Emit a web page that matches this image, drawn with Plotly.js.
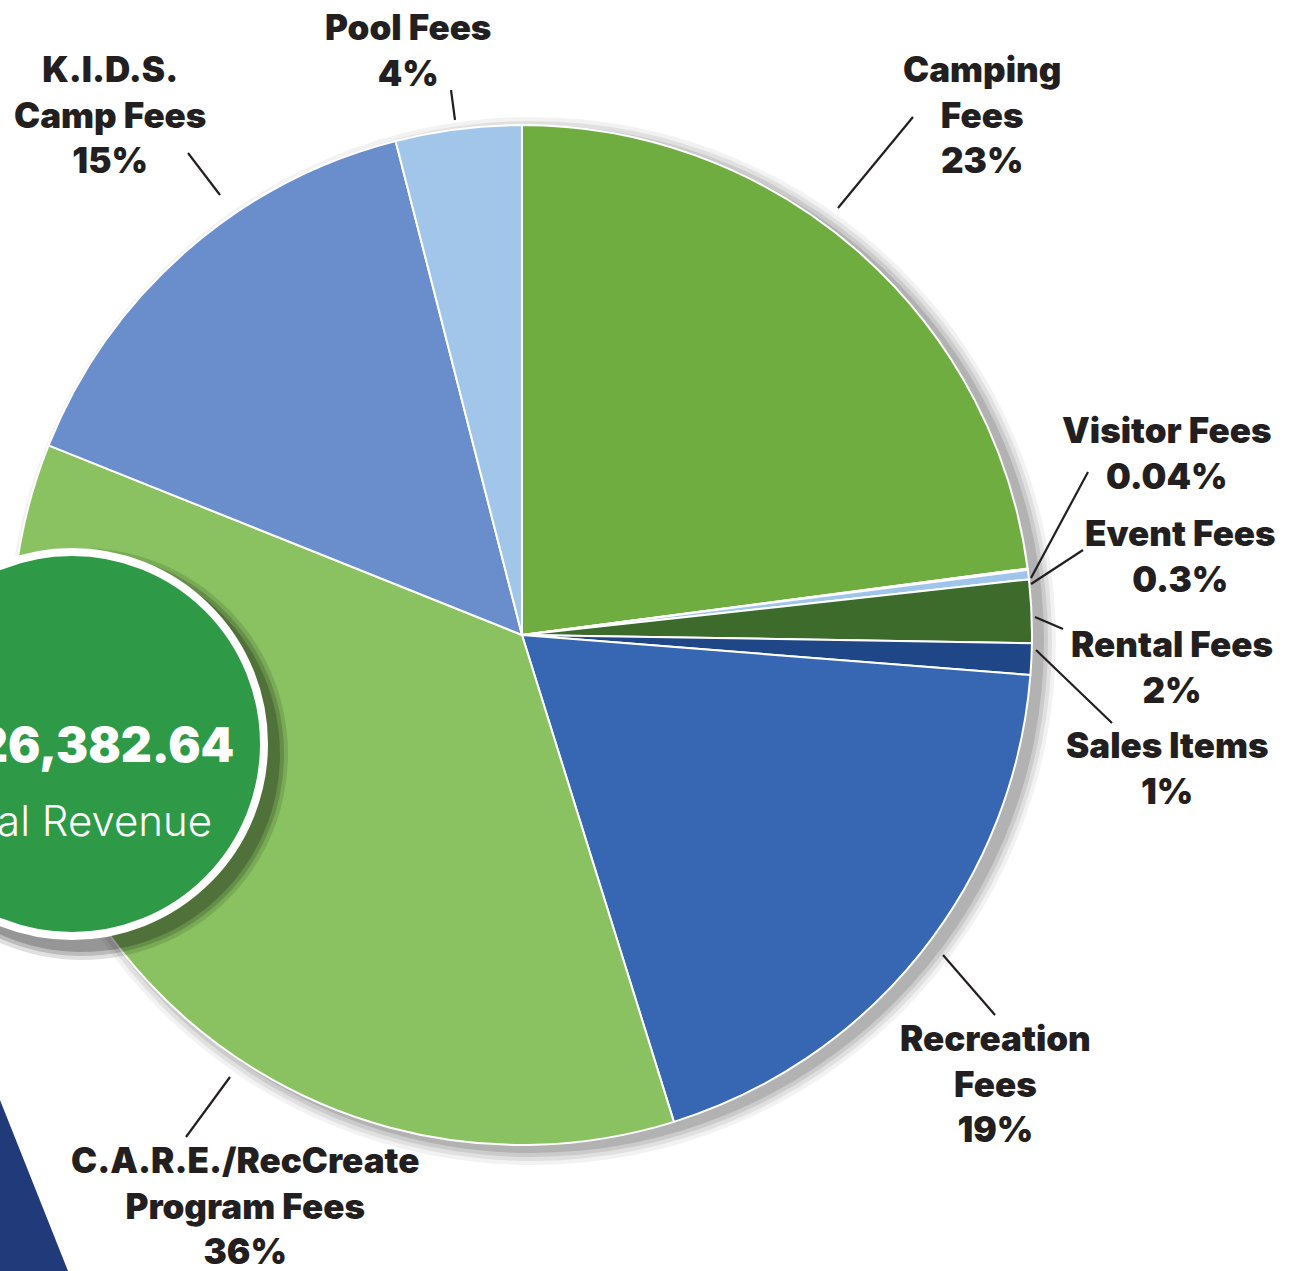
<!DOCTYPE html>
<html>
<head>
<meta charset="utf-8">
<script src="https://cdn.plot.ly/plotly-3.0.1.min.js"></script>
<style>html,body{margin:0;padding:0;background:#fff;overflow:hidden}#chart{width:1293px;height:1271px}</style>
</head>
<body>
<div id="chart"></div>
<script>
// ---- data ----
const categories = ["Camping Fees","Visitor Fees","Event Fees","Rental Fees","Sales Items","Recreation Fees","C.A.R.E./RecCreate Program Fees","K.I.D.S. Camp Fees","Pool Fees"];
const shares = [23, 0.04, 0.3, 2, 1, 19, 36, 15, 4];
const shareLabels = ["23%","0.04%","0.3%","2%","1%","19%","36%","15%","4%"];
const labelLines = [["Camping","Fees"],["Visitor Fees"],["Event Fees"],["Rental Fees"],["Sales Items"],["Recreation","Fees"],["C.A.R.E./RecCreate","Program Fees"],["K.I.D.S.","Camp Fees"],["Pool Fees"]];
const totalText = "26,382.64";
const totalLabel = "Total Revenue";

// ---- styling ----
const W = 1293, H = 1271;
const colors = ["#6fad41","#cfe2f3","#9fc6ea","#3d6b2c","#1f4787","#3767b3","#8ac262","#6a8ecb","#a2c6ea"];
const px = x => x / W;
const py = y => 1 - y / H;
const cx = 522, cy = 635, R = 510;

const labelPos = [[982,115],[1167,453],[1180,556],[1172,667],[1167,768],[995,1083],[245,1205],[110,115],[408,50]];
const leaders = [[913,117,838,208],[1088,472,1031,578],[1083,550,1031,584],[1063,629,1035,617],[1112,723,1036,650],[995,1015,943,955],[186,1137,230,1077],[188,153,220,195],[451,90,455,120]];

const trace = {
  type: 'pie',
  labels: categories,
  values: shares,
  sort: false,
  direction: 'clockwise',
  rotation: 0,
  textinfo: 'none',
  hoverinfo: 'label+percent',
  marker: {colors: colors, line: {color: '#ffffff', width: 2}},
  domain: {x: [px(cx - R), px(cx + R)], y: [py(cy + R), py(cy - R)]},
  showlegend: false
};

const shapes = [];
// soft pie shadow
[[14, 0.05],[10, 0.07],[6, 0.09],[2, 0.12]].forEach(([extra, op]) => {
  const ox = 10, oy = 6, r = R + extra;
  shapes.push({type:'circle', xref:'paper', yref:'paper', layer:'below',
    x0:px(cx+ox-r), x1:px(cx+ox+r), y0:py(cy+oy+r), y1:py(cy+oy-r),
    fillcolor:'rgba(0,0,0,'+op+')', line:{width:0}});
});
// total revenue badge shadow
const bx = 72, by = 744, br = 192;
[[14, 0.12],[10, 0.16],[6, 0.2]].forEach(([extra, op]) => {
  const r = br + extra;
  shapes.push({type:'circle', xref:'paper', yref:'paper', layer:'above',
    x0:px(bx+10-r), x1:px(bx+10+r), y0:py(by+10+r), y1:py(by+10-r),
    fillcolor:'rgba(0,0,0,'+op+')', line:{width:0}});
});
shapes.push({type:'circle', xref:'paper', yref:'paper', layer:'above',
  x0:px(bx-br), x1:px(bx+br), y0:py(by+br), y1:py(by-br),
  fillcolor:'#2e9a48', line:{color:'#ffffff', width:8}});
// navy corner triangle
shapes.push({type:'path', xref:'paper', yref:'paper', layer:'above',
  path:`M ${px(0)} ${py(1100)} L ${px(68)} ${py(1271)} L ${px(0)} ${py(1271)} Z`,
  fillcolor:'#213a7a', line:{width:0}});
// leader lines
leaders.forEach(([x0,y0,x1,y1]) => {
  shapes.push({type:'line', xref:'paper', yref:'paper', layer:'above',
    x0:px(x0), y0:py(y0), x1:px(x1), y1:py(y1), line:{color:'#231f20', width:2.2}});
});

const labelFont = {family:'Inter, Lato, sans-serif', size:35, color:'#231f20', weight:900};
const annotations = categories.map((c, i) => ({
  xref:'paper', yref:'paper', x:px(labelPos[i][0]), y:py(labelPos[i][1]),
  xanchor:'center', yanchor:'middle', showarrow:false, align:'center',
  text: labelLines[i].concat([shareLabels[i]]).join('<br>'),
  font: labelFont
}));
annotations.push({xref:'paper', yref:'paper', x:px(236), y:py(744), xanchor:'right', yanchor:'middle', showarrow:false,
  text: totalText, font:{family:'Inter, Lato, sans-serif', size:48, color:'#ffffff', weight:900}});
annotations.push({xref:'paper', yref:'paper', x:px(214), y:py(820), xanchor:'right', yanchor:'middle', showarrow:false,
  text: totalLabel, font:{family:'Inter, Lato, sans-serif', size:42, color:'#ffffff', weight:300}});

const layout = {
  width: W, height: H,
  margin: {l:0, r:0, t:0, b:0},
  paper_bgcolor: '#ffffff',
  showlegend: false,
  shapes: shapes,
  annotations: annotations
};

Plotly.newPlot('chart', [trace], layout, {displayModeBar:false, staticPlot:true});
</script>
</body>
</html>
